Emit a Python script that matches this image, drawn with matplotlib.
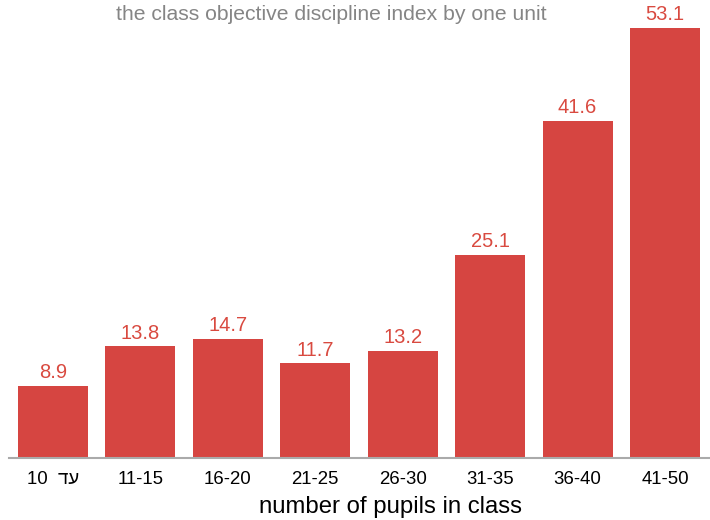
import matplotlib
matplotlib.use("Agg")
import matplotlib.pyplot as plt

categories = ["10  דע", "11-15", "16-20", "21-25", "26-30", "31-35", "36-40", "41-50"]
values = [8.9, 13.8, 14.7, 11.7, 13.2, 25.1, 41.6, 53.1]
title_text = "the class objective discipline index by one unit"
xlabel_text = "number of pupils in class"

plt.rcParams['font.family'] = ['Liberation Sans', 'DejaVu Sans']

W, H = 710, 520
fig = plt.figure(figsize=(W / 100, H / 100), dpi=100)
left_px, right_px = 9.3, 708.7
base_px = 458
ymax = 56
px_per_unit = 8.1
top_px = base_px - ymax * px_per_unit
ax = fig.add_axes([left_px / W, (H - base_px) / H, (right_px - left_px) / W, (base_px - top_px) / H])

bar_color = "#d64541"
x = range(len(categories))
ax.bar(x, values, width=0.8, color=bar_color)
for xi, v in zip(x, values):
    ax.text(xi, v + 0.45, f"{v}", ha="center", va="bottom", color="#d94a40", fontsize=14.5, clip_on=False)

ax.set_xlim(-0.5, len(categories) - 0.5)
ax.set_ylim(0, ymax)
ax.set_xticks(list(x))
ax.set_xticklabels(categories, fontsize=13.4)
ax.tick_params(axis="x", length=0, pad=9)
ax.set_yticks([])
for s in ["top", "right", "left"]:
    ax.spines[s].set_visible(False)
ax.spines["bottom"].set_color("#aaaaaa")
ax.spines["bottom"].set_linewidth(1.5)

fig.text(331 / W, 1 - 14 / H, title_text, ha="center", va="center", color="#858585", fontsize=15.2)
fig.text(390 / W, 1 - 507 / H, xlabel_text, ha="center", va="center", color="black", fontsize=17.2)

fig.savefig("out.png", dpi=100)
